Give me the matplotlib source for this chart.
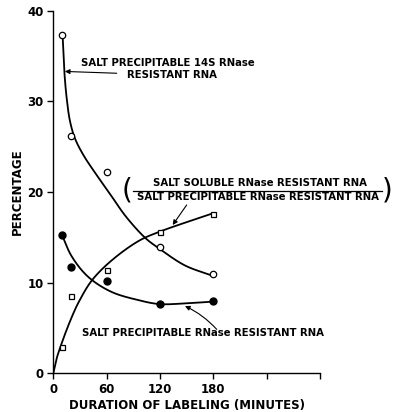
import numpy as np
import matplotlib
matplotlib.use('Agg')
import matplotlib.pyplot as plt

# labeling times (minutes) for the measured points
minutes = [10, 20, 60, 120, 180]

# percentage values for each fraction
pct_14s = [37.3, 26.2, 22.2, 13.9, 10.9]        # open circles
pct_precip = [15.3, 11.7, 10.15, 7.6, 8.0]      # filled circles
pct_ratio = [2.9, 8.5, 11.4, 15.6, 17.6]        # open squares

# hand-drawn smoothing curves through each series
curve_14s_x = [10.6, 12.4, 15.1, 18.8, 24.4, 33.7, 45, 63, 81.6, 103.8, 118.6, 148, 178]
curve_14s_y = [37.0, 33.3, 30.3, 27.8, 25.9, 24.1, 22.4, 19.9, 17.3, 14.9, 13.8, 11.9, 10.8]
curve_precip_x = [10, 20.7, 39, 65, 95, 119, 147, 178]
curve_precip_y = [15.2, 12.9, 10.66, 9.0, 8.09, 7.64, 7.7, 7.9]
curve_ratio_x = [0, 3.8, 9.4, 15, 22.5, 28, 43, 65, 96, 119, 178]
curve_ratio_y = [0, 1.65, 3.3, 4.8, 6.6, 7.75, 10.2, 12.4, 14.6, 15.6, 17.6]

x_ticks = [0, 60, 120, 180, 240, 300]
x_ticklabels = ['0', '60', '120', '180', '', '']
y_ticks = [0, 10, 20, 30, 40]

# rough screen scale (px per unit) so the spline bends evenly on both axes
SX, SY = 0.889, 9.065


def smooth(xs, ys, n=30):
    # centripetal catmull-rom through the given points
    p = np.column_stack([np.array(xs) * SX, np.array(ys) * SY]).astype(float)
    p = np.vstack([2 * p[0] - p[1], p, 2 * p[-1] - p[-2]])
    out = []
    for i in range(1, len(p) - 2):
        p0, p1, p2, p3 = p[i - 1], p[i], p[i + 1], p[i + 2]
        t0 = 0.0
        t1 = t0 + np.linalg.norm(p1 - p0) ** 0.5
        t2 = t1 + np.linalg.norm(p2 - p1) ** 0.5
        t3 = t2 + np.linalg.norm(p3 - p2) ** 0.5
        t = np.linspace(t1, t2, n)[:, None]
        a1 = (t1 - t) / (t1 - t0) * p0 + (t - t0) / (t1 - t0) * p1
        a2 = (t2 - t) / (t2 - t1) * p1 + (t - t1) / (t2 - t1) * p2
        a3 = (t3 - t) / (t3 - t2) * p2 + (t - t2) / (t3 - t2) * p3
        b1 = (t2 - t) / (t2 - t0) * a1 + (t - t0) / (t2 - t0) * a2
        b2 = (t3 - t) / (t3 - t1) * a2 + (t - t1) / (t3 - t1) * a3
        c = (t2 - t) / (t2 - t1) * b1 + (t - t1) / (t2 - t1) * b2
        out.append(c)
    c = np.vstack(out)
    return c[:, 0] / SX, c[:, 1] / SY


plt.rcParams['font.family'] = 'DejaVu Sans'
plt.rcParams['font.weight'] = 'bold'
plt.rcParams['axes.labelweight'] = 'bold'

fig = plt.figure(figsize=(3.97, 4.12), dpi=100)
ax = fig.add_axes([53.3 / 397, 38.7 / 412, 266.7 / 397, 362.6 / 412])

lw = 1.3
for cx, cy in [(curve_14s_x, curve_14s_y), (curve_precip_x, curve_precip_y),
               (curve_ratio_x, curve_ratio_y)]:
    sx, sy = smooth(cx, cy)
    ax.plot(sx, sy, color='black', lw=lw, zorder=2)

ax.plot(minutes, pct_14s, 'o', ms=4.6, mfc='white', mec='black', mew=0.9, zorder=3)
ax.plot(minutes, pct_precip, 'o', ms=5.0, mfc='black', mec='black', zorder=3)
ax.plot(minutes, pct_ratio, 's', ms=3.6, mfc='white', mec='black', mew=0.9, zorder=3)

ax.set_xlim(0, 300)
ax.set_ylim(0, 40)
ax.set_xticks(x_ticks)
ax.set_xticklabels(x_ticklabels)
ax.set_yticks(y_ticks)
ax.spines['top'].set_visible(False)
ax.spines['right'].set_visible(False)
ax.spines['left'].set_linewidth(1.0)
ax.spines['bottom'].set_linewidth(1.0)
ax.tick_params(direction='out', length=4, width=1.0, labelsize=8.5, pad=3)

ax.set_xlabel('DURATION OF LABELING (MINUTES)', fontsize=8.5, labelpad=2)
ax.set_ylabel('PERCENTAGE', fontsize=8.5)
ax.yaxis.set_label_coords(-0.11, 0.5)

fs = 7.3
arrow = dict(arrowstyle='-|>', color='black', lw=0.8, mutation_scale=7, shrinkA=0, shrinkB=0)

# 14S fraction label
ax.text(128.5, 34.2, 'SALT PRECIPITABLE 14S RNase', ha='center', va='center', fontsize=fs)
ax.text(133.5, 32.9, 'RESISTANT RNA', ha='center', va='center', fontsize=fs)
ax.annotate('', xy=(13.0, 33.3), xytext=(71.3, 33.1), arrowprops=arrow)

# soluble / precipitable ratio label
ax.text(232.5, 21.0, 'SALT SOLUBLE RNase RESISTANT RNA', ha='center', va='center', fontsize=fs)
ax.text(229.7, 19.45, 'SALT PRECIPITABLE RNase RESISTANT RNA', ha='center', va='center', fontsize=fs)
ax.plot([90, 370], [20.15, 20.15], color='black', lw=0.9, clip_on=False)
ax.text(83, 20.2, '(', ha='center', va='center', fontsize=20, fontweight='normal')
ax.text(376, 20.2, ')', ha='center', va='center', fontsize=20, fontweight='normal')
ax.annotate('', xy=(134.3, 16.36), xytext=(150, 18.57), arrowprops=arrow)

# salt precipitable fraction label
ax.text(168.7, 4.41, 'SALT PRECIPITABLE RNase RESISTANT RNA', ha='center', va='center', fontsize=fs)
ax.annotate('', xy=(148.1, 7.42), xytext=(183.8, 4.85),
            arrowprops=dict(arrow, connectionstyle='arc3,rad=0.1'))

fig.savefig('out.png', dpi=100)
